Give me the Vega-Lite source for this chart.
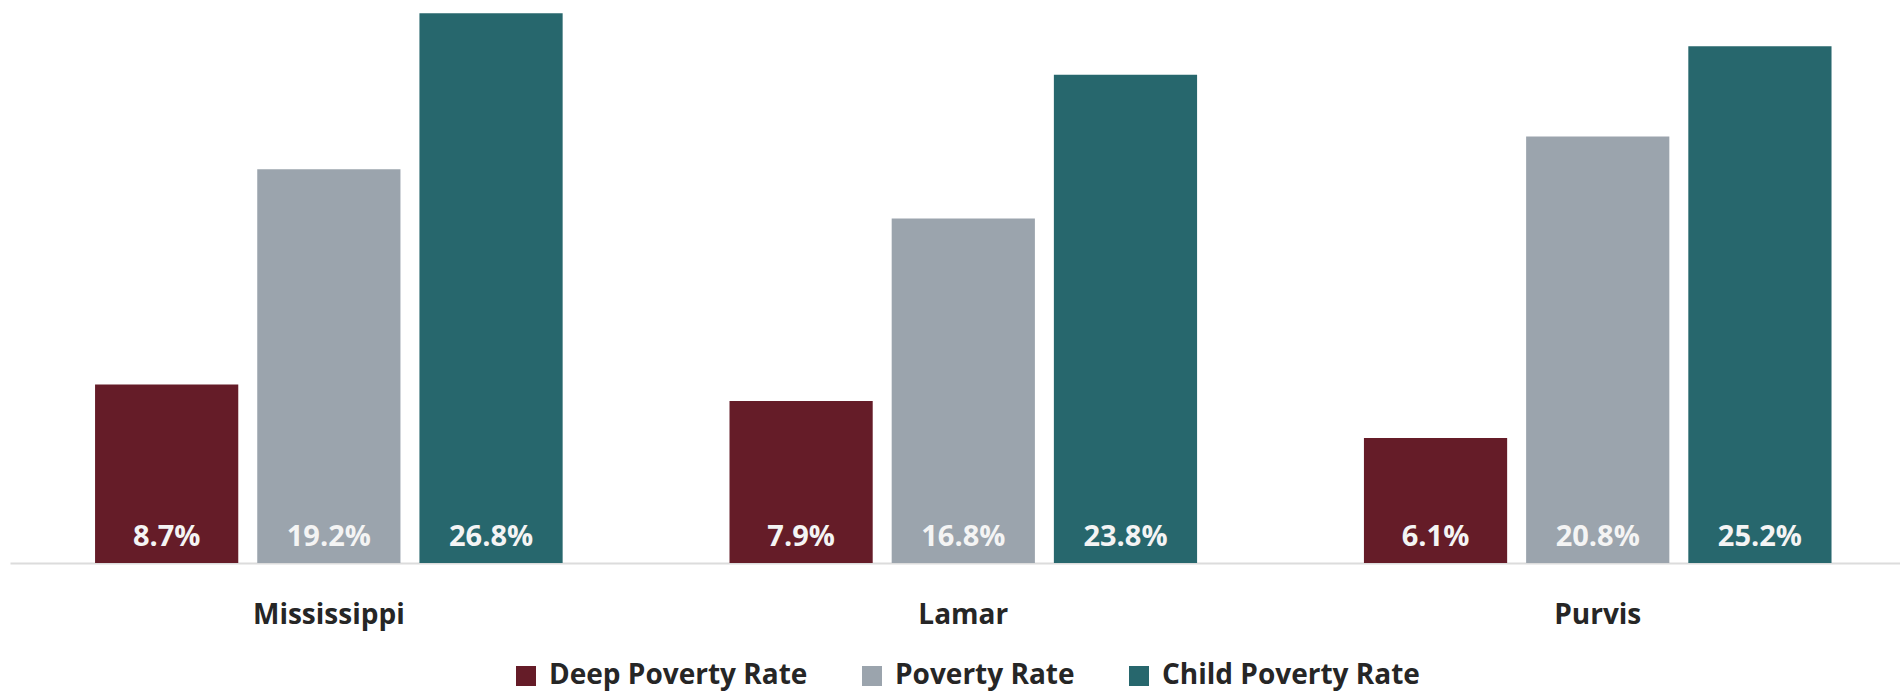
{
  "$schema": "https://vega.github.io/schema/vega-lite/v6.json",
  "width": 1890,
  "height": 563,
  "autosize": {"type": "none"},
  "padding": {"left": 10, "top": 0, "right": 0, "bottom": 131},
  "background": "#ffffff",
  "config": {
    "font": "Open Sans",
    "view": {"stroke": null}
  },
  "data": {
    "values": [
      {"place": "Mississippi", "measure": "Deep Poverty Rate", "value": 0.087},
      {"place": "Mississippi", "measure": "Poverty Rate", "value": 0.192},
      {"place": "Mississippi", "measure": "Child Poverty Rate", "value": 0.268},
      {"place": "Lamar", "measure": "Deep Poverty Rate", "value": 0.079},
      {"place": "Lamar", "measure": "Poverty Rate", "value": 0.168},
      {"place": "Lamar", "measure": "Child Poverty Rate", "value": 0.238},
      {"place": "Purvis", "measure": "Deep Poverty Rate", "value": 0.061},
      {"place": "Purvis", "measure": "Poverty Rate", "value": 0.208},
      {"place": "Purvis", "measure": "Child Poverty Rate", "value": 0.252}
    ]
  },
  "encoding": {
    "x": {
      "field": "place",
      "type": "nominal",
      "sort": ["Mississippi", "Lamar", "Purvis"],
      "scale": {"paddingInner": 0.263, "paddingOuter": 0.121, "align": 0.554},
      "axis": {
        "title": null,
        "labelAngle": 0,
        "labelFontSize": 28,
        "labelFontWeight": "bold",
        "labelColor": "#262626",
        "labelBaseline": "alphabetic",
        "labelPadding": 60,
        "ticks": false,
        "tickSize": 0,
        "domainColor": "#dcdcdc",
        "domainWidth": 2,
        "grid": false
      }
    },
    "xOffset": {
      "field": "measure",
      "type": "nominal",
      "sort": ["Deep Poverty Rate", "Poverty Rate", "Child Poverty Rate"],
      "scale": {"paddingInner": 0.117, "paddingOuter": 0}
    }
  },
  "layer": [
    {
      "mark": {"type": "bar"},
      "encoding": {
        "y": {
          "field": "value",
          "type": "quantitative",
          "scale": {"domain": [0, 0.2745], "nice": false},
          "axis": null
        },
        "color": {
          "field": "measure",
          "type": "nominal",
          "sort": ["Deep Poverty Rate", "Poverty Rate", "Child Poverty Rate"],
          "scale": {
            "domain": ["Deep Poverty Rate", "Poverty Rate", "Child Poverty Rate"],
            "range": ["#651c28", "#9ba4ad", "#27676d"]
          },
          "legend": {
            "title": null,
            "orient": "none",
            "direction": "horizontal",
            "legendX": 502,
            "legendY": 662,
            "padding": 0,
            "symbolType": "square",
            "symbolSize": 400,
            "symbolStrokeWidth": 0,
            "labelFontSize": 28,
            "labelFontWeight": "bold",
            "labelColor": "#262626",
            "labelOffset": 9,
            "columnPadding": 50,
            "labelLimit": 400
          }
        }
      }
    },
    {
      "mark": {
        "type": "text",
        "baseline": "alphabetic",
        "align": "center",
        "dy": -17,
        "fontSize": 29,
        "fontWeight": "bold",
        "color": "#f4f4f4"
      },
      "encoding": {
        "y": {"datum": 0, "type": "quantitative"},
        "text": {"field": "value", "type": "quantitative", "format": ".1%"}
      }
    }
  ]
}
